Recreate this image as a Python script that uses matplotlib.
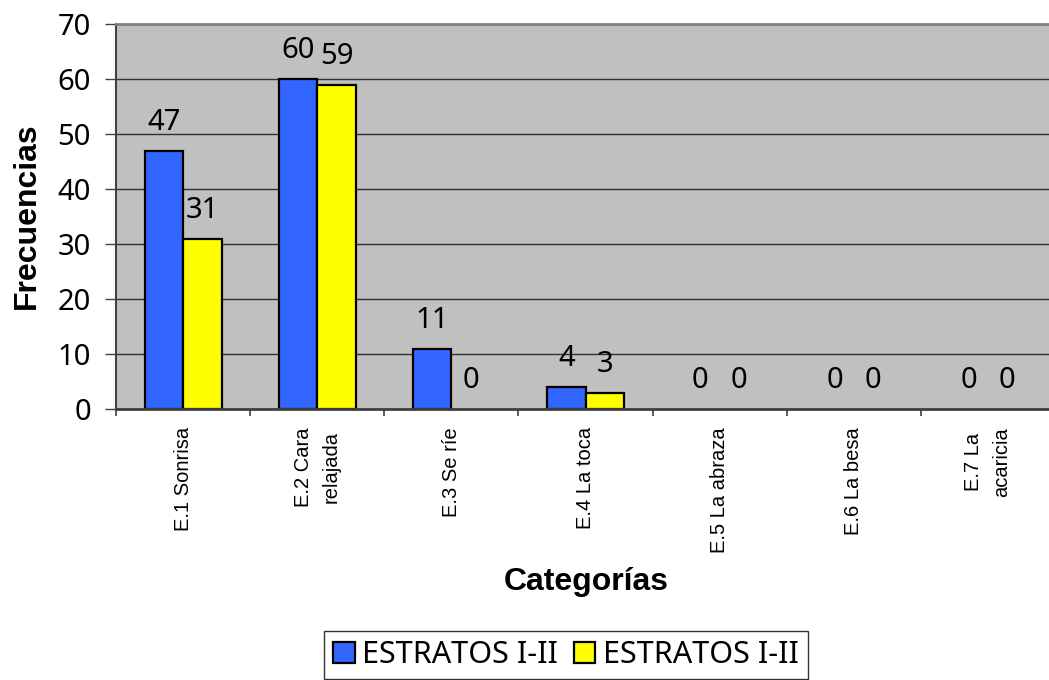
import matplotlib
matplotlib.use("Agg")
import matplotlib.pyplot as plt
import numpy as np

categories = ["E.1 Sonrisa", "E.2 Cara\nrelajada", "E.3 Se ríe", "E.4 La toca",
              "E.5 La abraza", "E.6 La besa", "E.7 La\nacaricia"]
series_names = ["ESTRATOS I-II", "ESTRATOS I-II"]
serie_a = [47, 60, 11, 4, 0, 0, 0]
serie_b = [31, 59, 0, 3, 0, 0, 0]
y_ticks = [0, 10, 20, 30, 40, 50, 60, 70]

colors = ["#3366FF", "#FFFF00"]
num_font = "Noto Sans"
lbl_font = "Liberation Sans"

fig = plt.figure(figsize=(10.49, 6.80), dpi=100)
ax = fig.add_axes([116 / 1049, 1 - 409 / 680, 939 / 1049, 385 / 680])
ax.set_facecolor("#C0C0C0")

x = np.arange(len(categories))
w = 0.287
for vals, off, col in ((serie_a, -w / 2, colors[0]), (serie_b, w / 2, colors[1])):
    lws = [1.6 if v > 0 else 0 for v in vals]
    ax.bar(x + off, vals, width=w, color=col, edgecolor="black",
           linewidth=lws, zorder=3)
    for xi, v in zip(x + off, vals):
        ax.annotate(f"{v}", xy=(xi, v), xytext=(0, 15), textcoords="offset points",
                    ha="center", va="baseline", fontsize=21, family=num_font,
                    color="black", zorder=4)

ax.set_xlim(-0.5, len(categories) - 0.5)
ax.set_ylim(0, 70)
ax.set_yticks(y_ticks)
ax.set_yticklabels([str(t) for t in y_ticks], fontsize=21, family=num_font)
ax.tick_params(axis="y", direction="out", length=8, width=1, color="#404040", pad=10)

ax.set_xticks(x)
ax.set_xticklabels(categories, rotation=90, ha="center", va="top",
                   fontsize=14.5, family=lbl_font, linespacing=1.6)
ax.tick_params(axis="x", which="major", length=0, pad=13)
ax.set_xticks(np.arange(len(categories) + 1) - 0.5, minor=True)
ax.tick_params(axis="x", which="minor", direction="out", length=5, width=1.2,
               color="#404040")

ax.grid(axis="y", color="#303030", linewidth=1.0, zorder=1)
ax.set_axisbelow(True)

ax.spines["top"].set_color("#808080")
ax.spines["top"].set_linewidth(2)
ax.spines["right"].set_visible(False)
ax.spines["left"].set_color("#404040")
ax.spines["left"].set_linewidth(1.5)
ax.spines["bottom"].set_color("#404040")
ax.spines["bottom"].set_linewidth(2)
for s in ax.spines.values():
    s.set_zorder(5)

fig.text(27 / 1049, 1 - 216 / 680, "Frecuencias", rotation=90, ha="center",
         va="center", fontsize=23, fontweight="bold", family=lbl_font)
fig.text(586 / 1049, 1 - 582 / 680, "Categorías", ha="center", va="center",
         fontsize=23, fontweight="bold", family=lbl_font)

handles = [plt.Rectangle((0, 0), 1, 1, facecolor=c, edgecolor="black", linewidth=1.6)
           for c in colors]
leg = fig.legend(handles, series_names, loc="center",
                 bbox_to_anchor=(566 / 1049, 1 - 655 / 680), ncol=2,
                 prop={"family": num_font, "size": 22}, frameon=True,
                 fancybox=False, edgecolor="black", handlelength=0.7,
                 handleheight=0.7, handletextpad=0.25, columnspacing=0.5,
                 borderpad=0.3, borderaxespad=0)
leg.get_frame().set_linewidth(1.0)

fig.savefig("out.png", dpi=100)
